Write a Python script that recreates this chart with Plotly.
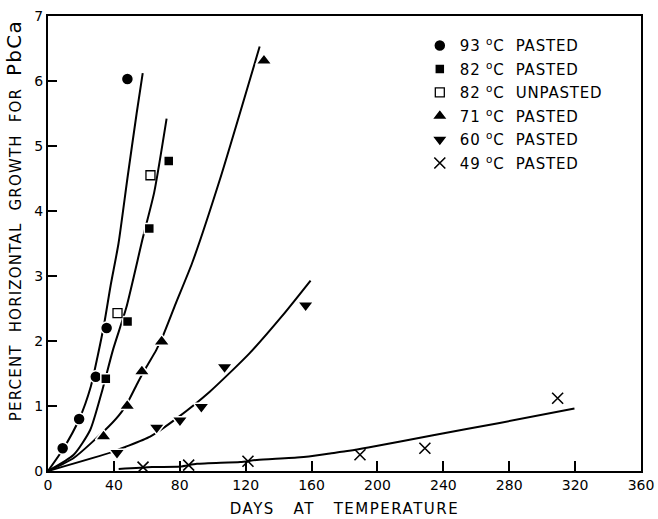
import plotly.graph_objects as go

# ---- measured data points (days, % growth) ----
c93_x = [8.9, 18.9, 29.0, 35.6, 48.2]
c93_y = [0.35, 0.80, 1.45, 2.20, 6.03]

c82p_x = [35.1, 48.3, 61.5, 73.3]
c82p_y = [1.42, 2.30, 3.73, 4.77]

c82u_x = [42.2, 62.2]
c82u_y = [2.43, 4.55]

c71_x = [33.7, 48.1, 57.0, 69.0, 131.1]
c71_y = [0.53, 1.00, 1.53, 1.99, 6.31]

c60_x = [41.9, 66.0, 80.1, 93.1, 107.2, 156.4]
c60_y = [0.28, 0.67, 0.78, 0.99, 1.60, 2.55]

c49_x = [57.7, 85.4, 121.4, 189.4, 228.8, 309.4]
c49_y = [0.06, 0.09, 0.15, 0.25, 0.35, 1.12]

# ---- fitted curves ----
f93_x = [0, 9, 19, 26, 30, 34, 38, 42.8, 48.2, 53.8, 57.5]
f93_y = [0, 0.33, 0.80, 1.30, 1.75, 2.25, 2.85, 3.50, 4.50, 5.50, 6.12]

f82_x = [0, 15.6, 25.6, 32.5, 39.4, 47.5, 57.5, 64.5, 72.0]
f82_y = [0, 0.25, 0.63, 1.20, 1.86, 2.51, 3.58, 4.29, 5.42]

f71_x = [0, 15.6, 36.7, 44.7, 49.7, 54.7, 59.7, 65.7, 69.6, 77.6, 87.5, 104.3, 128.5]
f71_y = [0, 0.20, 0.68, 0.91, 1.12, 1.37, 1.60, 1.86, 2.07, 2.58, 3.20, 4.48, 6.53]

f60_x = [0, 38.8, 46.9, 62.0, 78.1, 98.2, 122.3, 142.3, 159.4]
f60_y = [0, 0.29, 0.37, 0.53, 0.81, 1.22, 1.81, 2.39, 2.93]

f49_x = [42.9, 63.2, 80.3, 90.4, 116.7, 126.8, 153.1, 171.2, 182.9, 194.4, 233.8, 274.2, 319.6]
f49_y = [0.03, 0.06, 0.07, 0.11, 0.14, 0.17, 0.21, 0.27, 0.31, 0.36, 0.55, 0.74, 0.96]

x_ticks = [0, 40, 80, 120, 160, 200, 240, 280, 320, 360]
y_ticks = [0, 1, 2, 3, 4, 5, 6, 7]

labels = [
    "93 <sup>o</sup>C  PASTED",
    "82 <sup>o</sup>C  PASTED",
    "82 <sup>o</sup>C  UNPASTED",
    "71 <sup>o</sup>C  PASTED",
    "60 <sup>o</sup>C  PASTED",
    "49 <sup>o</sup>C  PASTED",
]

FONT = "DejaVu Sans"
fig = go.Figure()

for fx, fy in [(f93_x, f93_y), (f82_x, f82_y), (f71_x, f71_y), (f60_x, f60_y), (f49_x, f49_y)]:
    fig.add_trace(go.Scatter(x=fx, y=fy, mode="lines",
                             line=dict(color="black", width=2, shape="spline", smoothing=0.6),
                             showlegend=False, hoverinfo="skip"))

sets = [
    (c93_x, c93_y, "circle", 12, "black", "white", 1.5),
    (c82p_x, c82p_y, "square", 10, "black", "white", 1.5),
    (c82u_x, c82u_y, "square", 9, "white", "black", 1.3),
    (c71_x, c71_y, "triangle-up", 14, "black", "white", 1.5),
    (c60_x, c60_y, "triangle-down", 14, "black", "white", 1.5),
    (c49_x, c49_y, "x-thin", 11, "black", "black", 1.6),
]
for i, (sx, sy, sym, sz, fill, lc, lw) in enumerate(sets):
    fig.add_trace(go.Scatter(x=sx, y=sy, mode="markers",
                             name="<span style='letter-spacing:0.8px'>" + labels[i] + "</span>",
                             legendgroup=f"g{i}",
                             marker=dict(symbol=sym, size=sz, color=fill,
                                         line=dict(color=lc, width=lw))))

axis_common = dict(showgrid=False, zeroline=False, showline=True, linecolor="black",
                   linewidth=2, mirror=True, ticks="inside", tickcolor="black",
                   tickwidth=1.5, automargin=False,
                   tickfont=dict(family=FONT, size=14, color="black"))

fig.update_xaxes(range=[0, 360], tickvals=x_ticks, ticklen=10,
                 title=dict(text="<span style='letter-spacing:1.5px'>DAYS   AT   TEMPERATURE</span>",
                            standoff=12,
                            font=dict(family=FONT, size=15, color="black")),
                 **axis_common)
fig.update_yaxes(range=[0, 7], tickvals=y_ticks, ticklen=9, **axis_common)

fig.add_annotation(xref="paper", yref="paper", x=-0.0573, y=0.549,
                   text=("<span style='letter-spacing:1.2px'>PERCENT  HORIZONTAL  GROWTH  FOR  "
                         "<span style='font-size:20px'>PbCa</span></span>"),
                   textangle=-90, showarrow=False, xanchor="center", yanchor="middle",
                   font=dict(family=FONT, size=15, color="black"))

fig.update_layout(
    width=658, height=519,
    margin=dict(l=48, r=17, t=16, b=48),
    paper_bgcolor="white", plot_bgcolor="white",
    legend=dict(x=0.627, y=0.971, xanchor="left", yanchor="top",
                font=dict(family=FONT, size=15, color="black"),
                bgcolor="rgba(0,0,0,0)", traceorder="grouped", tracegroupgap=1,
                itemwidth=30),
    font=dict(family=FONT, color="black"),
)

fig.write_html("out.html", config={"displayModeBar": False},
               post_script="document.body.style.margin='0';document.body.style.overflow='hidden';")
